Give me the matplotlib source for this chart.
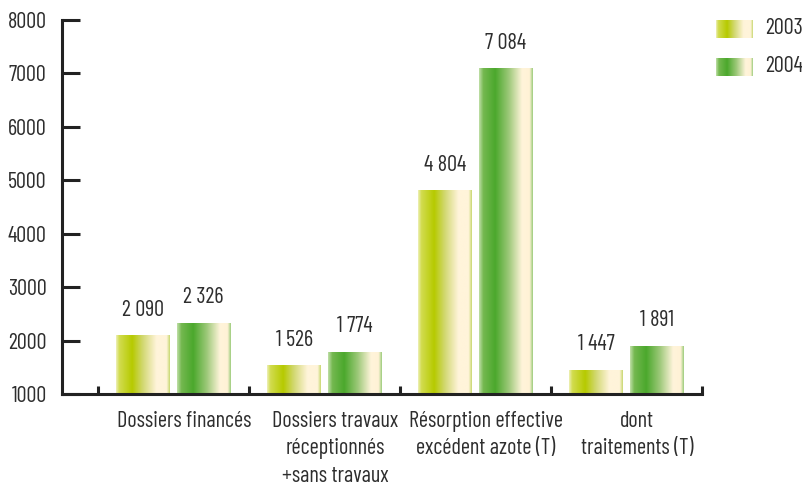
import matplotlib
matplotlib.use("Agg")
import matplotlib.pyplot as plt
import numpy as np
from matplotlib.colors import LinearSegmentedColormap
from matplotlib import font_manager

categories = ["Dossiers financés", "Dossiers travaux\nréceptionnés\n+sans travaux",
              "Résorption effective\nexcédent azote (T)", "dont\ntraitements (T)"]
series_names = ["2003", "2004"]
values_2003 = [2090, 1526, 4804, 1447]
values_2004 = [2326, 1774, 7084, 1891]
value_labels_2003 = ["2 090", "1 526", "4 804", "1 447"]
value_labels_2004 = ["2 326", "1 774", "7 084", "1 891"]
y_ticks = [1000, 2000, 3000, 4000, 5000, 6000, 7000, 8000]

avail = {f.name for f in font_manager.fontManager.ttflist}
fam = "Barlow Condensed" if "Barlow Condensed" in avail else "DejaVu Sans"
plt.rcParams['font.family'] = [fam, 'DejaVu Sans']
TXT = "#2e2e2e"
FS = 16

cmap03 = LinearSegmentedColormap.from_list("g03", [
    (0.0, "#eef0b8"), (0.06, "#d2dc50"), (0.3, "#b6ca00"), (0.5, "#d2d872"),
    (0.75, "#fff4da"), (0.94, "#fff4da"), (1.0, "#c8d870")])
cmap04 = LinearSegmentedColormap.from_list("g04", [
    (0.0, "#c0e0a8"), (0.08, "#74b850"), (0.3, "#4ba82c"), (0.55, "#9cc878"),
    (0.8, "#fff4da"), (0.94, "#fff2d6"), (1.0, "#9ccc7c")])

fig = plt.figure(figsize=(8.02, 4.87), dpi=100)
ax = fig.add_axes([62/802, 1 - 394/487, (702 - 62)/802, (394 - 20)/487])

grad = np.linspace(0, 1, 256).reshape(1, -1)
x = np.arange(len(categories))
w = 0.355
off = 0.2
base = 1000
for vals, labs, cm, sgn in [(values_2003, value_labels_2003, cmap03, -1),
                            (values_2004, value_labels_2004, cmap04, 1)]:
    for xi, v, lab in zip(x, vals, labs):
        c = xi + sgn * off
        ax.imshow(grad, cmap=cm, aspect='auto', extent=[c - w/2, c + w/2, base, v],
                  interpolation='bilinear', zorder=2)
        ax.annotate(lab, (c, v), xytext=(0, 18.5), textcoords='offset points',
                    ha='center', va='center', fontsize=FS, color=TXT)

ax.set_xlim(-0.738, 3.5)
ax.set_ylim(1000, 8000)
ax.set_yticks(y_ticks)
ax.set_yticklabels([str(t) for t in y_ticks], fontsize=FS, color=TXT)
ax.tick_params(axis='y', direction='in', length=13, width=2.2, color="#222222", pad=11)
ax.set_xticks([-0.5, 0.5, 1.5, 2.5, 3.5])
ax.set_xticklabels([])
ax.tick_params(axis='x', direction='in', length=6, width=2.2, color="#222222")
for s in ['top', 'right']:
    ax.spines[s].set_visible(False)
for s in ['left', 'bottom']:
    ax.spines[s].set_linewidth(2.2)
    ax.spines[s].set_color("#222222")

for xi, cat in zip(x, categories):
    ax.annotate(cat, (xi, 0), xycoords=('data', 'axes fraction'), xytext=(7.5, -12),
                textcoords='offset points', ha='center', va='top', fontsize=FS,
                color=TXT, linespacing=1.42, annotation_clip=False)

# legend
for i, (name, cm) in enumerate(zip(series_names, [cmap03, cmap04])):
    top = 20 + i * 38
    lax = fig.add_axes([716/802, 1 - (top + 18)/487, 37/802, 18/487])
    lax.imshow(grad, cmap=cm, aspect='auto', interpolation='bilinear')
    lax.axis('off')
    fig.text(765/802, 1 - (top + 9)/487, name, fontsize=FS, color=TXT,
             ha='left', va='center')

fig.savefig("out.png", dpi=100)
